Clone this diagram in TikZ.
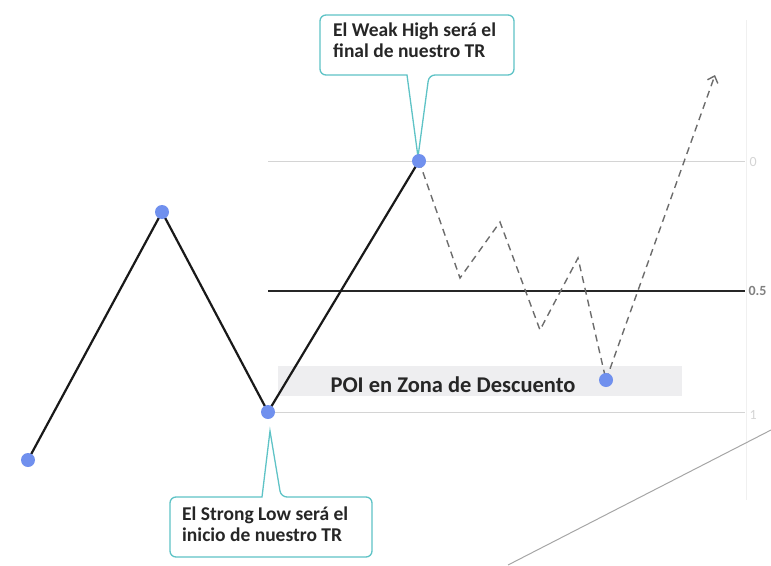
\documentclass[tikz,border=0pt]{standalone}
\usepackage{fontspec}
\setmainfont{Carlito}
\usetikzlibrary{arrows.meta}
\definecolor{dotblue}{HTML}{7090EE}
\definecolor{teal1}{HTML}{5EC3C6}
\definecolor{lgray}{HTML}{D4D4D4}
\definecolor{zone}{HTML}{EEEEF0}
\begin{document}
\begin{tikzpicture}[x=1pt,y=-1pt,
  dot/.style={circle,fill=dotblue,inner sep=0pt,minimum size=14pt},
  price/.style={line width=2.2pt,black!90},
  proj/.style={line width=1.4pt,gray!85!black,dash pattern=on 7pt off 5pt},
  level/.style={line width=0.9pt,lgray},
  lbl/.style={font=\fontsize{14}{16}\selectfont,text=lgray,anchor=west},
  callout/.style={draw=teal1,line width=1.3pt,fill=white,rounded corners=6pt},
  ctext/.style={font=\bfseries\fontsize{19.5}{21}\selectfont,align=left,anchor=north west,inner sep=0pt,text=black!85}]
\useasboundingbox (0,0) rectangle (771,565);
% levels
\coordinate (l0a) at (268,161); \coordinate (l0b) at (745,161);
\coordinate (l5a) at (268,291); \coordinate (l5b) at (745,291);
\coordinate (l1a) at (268,412); \coordinate (l1b) at (745,412);
\node[fill=zone,minimum width=404pt,minimum height=30pt,inner sep=0pt] (zone) at (480,381) {};
\draw[level] (l0a) -- (l0b);
\draw[level] (l1a) -- (l1b);
\draw[line width=1.4pt,black!85] (l5a) -- (l5b);
\node[lbl] (t0) at (746,162) {0};
\node[lbl] (t1) at (746,415) {1};
\node[lbl,text=gray,font=\bfseries\fontsize{14}{16}\selectfont] (t5) at (745,291) {0.5};
\draw[lgray!35,line width=0.6pt] (746,20) -- (746,500);
\node[font=\bfseries\fontsize{22.5}{24}\selectfont,text=black!85,anchor=west] (ztext) at (327,385) {POI en Zona de Descuento};
% diagonal
\coordinate (da) at (508,565); \coordinate (db) at (771,430);
\draw[line width=1pt,gray!70] (da) -- (db);
% price path
\coordinate (p1) at (28,460); \coordinate (p2) at (162,212);
\coordinate (p3) at (268,412); \coordinate (p4) at (419,161);
\coordinate (q1) at (460,278); \coordinate (q2) at (500,222);
\coordinate (q3) at (540,330); \coordinate (q4) at (578,258);
\coordinate (q5) at (606,380); \coordinate (q6) at (715,75);
\draw[proj] (p4) -- (q1) -- (q2) -- (q3) -- (q4) -- (q5);
\draw[proj,-{Straight Barb[length=6pt,width=11pt]}] (q5) -- (q6);
\draw[price] (p1) -- (p2) -- (p3) -- (p4);
% callouts
\draw[callout] (407,75) -- (320,75) -- (320,15) -- (514,15) -- (514,75) -- (429,75) [sharp corners] -- (418,157) -- cycle;
\node[ctext] (ctop) at (333,23) {El Weak High será el\\final de nuestro TR};
\draw[callout] (262,497) -- (170,497) -- (170,557) -- (372,557) -- (372,497) -- (281,497) [sharp corners] -- (270,431) -- cycle;
\node[ctext] (cbot) at (182,507) {El Strong Low será el\\inicio de nuestro TR};
% dots
\node[dot] (d1) at (p1) {};
\node[dot] (d2) at (p2) {};
\node[dot] (d3) at (p3) {};
\node[dot] (d4) at (p4) {};
\node[dot] (d5) at (q5) {};
\end{tikzpicture}
\end{document}
